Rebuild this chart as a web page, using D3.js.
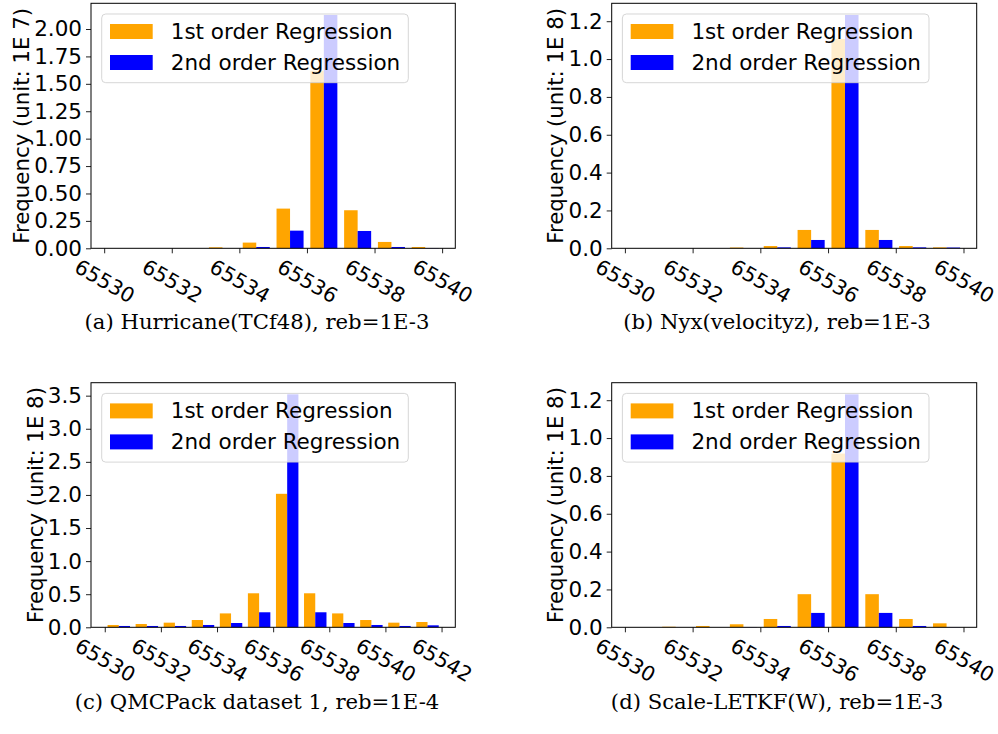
<!DOCTYPE html>
<html>
<head>
<meta charset="utf-8">
<script src="https://cdn.jsdelivr.net/npm/d3@7"></script>
<style>
  body { margin: 0; background: #fff; }
  svg { display: block; }
  .tick text { font-family: "DejaVu Sans", sans-serif; }
</style>
</head>
<body>
<div id="chart"></div>
<script>
// bins (left edges), values in plot units
var binsA = [65530, 65531, 65532, 65533, 65534, 65535, 65536, 65537, 65538, 65539];
var firstA = [0, 0, 0, 0.009, 0.052, 0.362, 1.62, 0.347, 0.058, 0.012];
var secondA = [0, 0, 0, 0, 0.012, 0.161, 2.128, 0.158, 0.012, 0.002];

var binsB = [65530, 65531, 65532, 65533, 65534, 65535, 65536, 65537, 65538, 65539];
var firstB = [0, 0, 0, 0.004, 0.012, 0.097, 1.106, 0.097, 0.012, 0.005];
var secondB = [0, 0, 0, 0, 0.005, 0.044, 1.233, 0.044, 0.005, 0.004];

var binsC = [65530, 65531, 65532, 65533, 65534, 65535, 65536, 65537, 65538, 65539, 65540, 65541];
var firstC = [0.035, 0.05, 0.07, 0.11, 0.21, 0.514, 2.017, 0.514, 0.21, 0.11, 0.07, 0.08];
var secondC = [0.02, 0.02, 0.02, 0.035, 0.065, 0.227, 3.52, 0.227, 0.065, 0.035, 0.02, 0.03];

var binsD = [65530, 65531, 65532, 65533, 65534, 65535, 65536, 65537, 65538, 65539];
var firstD = [0, 0.003, 0.007, 0.016, 0.044, 0.175, 0.918, 0.175, 0.044, 0.021];
var secondD = [0, 0, 0, 0.001, 0.007, 0.076, 1.231, 0.076, 0.007, 0.001];

var xTicksA = [65530, 65532, 65534, 65536, 65538, 65540];
var xTicksC = [65530, 65532, 65534, 65536, 65538, 65540, 65542];
var yTicksA = [0, 0.25, 0.5, 0.75, 1.0, 1.25, 1.5, 1.75, 2.0];
var yTicksB = [0, 0.2, 0.4, 0.6, 0.8, 1.0, 1.2];
var yTicksC = [0, 0.5, 1.0, 1.5, 2.0, 2.5, 3.0, 3.5];

var seriesNames = ["1st order Regression", "2nd order Regression"];
var seriesColors = ["#ffa500", "#0000ff"];

var WIDTH = 998, HEIGHT = 734;

var svg = d3.select("#chart").append("svg")
    .attr("width", WIDTH)
    .attr("height", HEIGHT);

function panel(opt) {
    var left = opt.left, right = opt.right, top = opt.top, bottom = opt.bottom;
    var bins = opt.bins;

    // matplotlib style 5% margins around the patches
    var x0 = bins[0] + 0.1, x1 = bins[bins.length - 1] + 0.9;
    var pad = (x1 - x0) * 0.05;
    var x = d3.scaleLinear().domain([x0 - pad, x1 + pad]).range([left, right]);

    var ymax = d3.max(opt.first.concat(opt.second)) * 1.05;
    var y = d3.scaleLinear().domain([0, ymax]).range([bottom, top]);

    var g = svg.append("g");

    var rows = bins.map(function (b, i) {
        return { bin: b, v: [opt.first[i], opt.second[i]] };
    });

    [0, 1].forEach(function (s) {
        g.append("g").selectAll("rect")
            .data(rows).enter().append("rect")
            .attr("x", function (d) { return x(d.bin + 0.1 + 0.4 * s); })
            .attr("width", function (d) { return x(d.bin + 0.5) - x(d.bin + 0.1); })
            .attr("y", function (d) { return y(d.v[s]); })
            .attr("height", function (d) { return y(0) - y(d.v[s]); })
            .attr("fill", seriesColors[s]);
    });

    var xAxis = g.append("g")
        .attr("transform", "translate(0," + bottom + ")")
        .call(d3.axisBottom(x).tickValues(opt.xTicks).tickSize(5).tickFormat(d3.format("d")));
    xAxis.select(".domain").remove();
    xAxis.selectAll(".tick line").attr("stroke", "#222");
    xAxis.selectAll(".tick text")
        .attr("y", 0).attr("dy", null)
        .attr("font-size", 20.5)
        .attr("fill", "#000")
        .attr("text-anchor", "middle")
        .attr("dominant-baseline", "central")
        .attr("transform", "translate(0,33) rotate(30)");

    var yAxis = g.append("g")
        .attr("transform", "translate(" + left + ",0)")
        .call(d3.axisLeft(y).tickValues(opt.yTicks).tickSize(5).tickPadding(4).tickFormat(d3.format(opt.yFormat)));
    yAxis.select(".domain").remove();
    yAxis.selectAll(".tick line").attr("stroke", "#222");
    yAxis.selectAll(".tick text")
        .attr("font-size", 21.5)
        .attr("fill", "#000");

    g.append("rect")
        .attr("x", left).attr("y", top)
        .attr("width", right - left).attr("height", bottom - top)
        .attr("fill", "none")
        .attr("stroke", "#000")
        .attr("stroke-width", 1);

    g.append("text")
        .attr("transform", "translate(" + opt.labelX + "," + ((top + bottom) / 2) + ") rotate(-90)")
        .attr("text-anchor", "middle")
        .attr("dominant-baseline", "central")
        .attr("font-family", "DejaVu Sans, sans-serif")
        .attr("font-size", 21.3)
        .text(opt.ylabel);

    // legend
    var lx = left + 10.7, ly = top + 10.7;
    var leg = g.append("g").attr("transform", "translate(" + lx + "," + ly + ")");
    leg.append("rect")
        .attr("width", 306.6).attr("height", 68.7)
        .attr("rx", 4).attr("ry", 4)
        .attr("fill", "#fff").attr("fill-opacity", 0.8)
        .attr("stroke", "#cccccc").attr("stroke-opacity", 0.8)
        .attr("stroke-width", 1);
    seriesNames.forEach(function (name, i) {
        leg.append("rect")
            .attr("x", 8.3).attr("y", 10 + i * 31)
            .attr("width", 42.7).attr("height", 15)
            .attr("fill", seriesColors[i]);
        leg.append("text")
            .attr("x", 69).attr("y", 17.5 + i * 31)
            .attr("dominant-baseline", "central")
            .attr("font-family", "DejaVu Sans, sans-serif")
            .attr("font-size", 21.5)
            .text(name);
    });

    svg.append("text")
        .attr("x", opt.capX).attr("y", opt.capY)
        .attr("text-anchor", "middle")
        .attr("font-family", "DejaVu Serif, serif")
        .attr("font-size", 21.2)
        .text(opt.caption);
}

panel({ left: 91, right: 455.3, top: 3.3, bottom: 248.3, bins: binsA, first: firstA, second: secondA,
    xTicks: xTicksA, yTicks: yTicksA, yFormat: ".2f", ylabel: "Frequency (unit: 1E 7)", labelX: 21.7,
    caption: "(a) Hurricane(TCf48), reb=1E-3", capX: 257, capY: 329 });
panel({ left: 611.7, right: 976.7, top: 3.3, bottom: 248.3, bins: binsB, first: firstB, second: secondB,
    xTicks: xTicksA, yTicks: yTicksB, yFormat: ".1f", ylabel: "Frequency (unit: 1E 8)", labelX: 555,
    caption: "(b) Nyx(velocityz), reb=1E-3", capX: 777, capY: 329 });
panel({ left: 91, right: 455.3, top: 382.7, bottom: 627.3, bins: binsC, first: firstC, second: secondC,
    xTicks: xTicksC, yTicks: yTicksC, yFormat: ".1f", ylabel: "Frequency (unit: 1E 8)", labelX: 35,
    caption: "(c) QMCPack dataset 1, reb=1E-4", capX: 257, capY: 709 });
panel({ left: 611.7, right: 976.7, top: 382.7, bottom: 627.3, bins: binsD, first: firstD, second: secondD,
    xTicks: xTicksA, yTicks: yTicksB, yFormat: ".1f", ylabel: "Frequency (unit: 1E 8)", labelX: 555,
    caption: "(d) Scale-LETKF(W), reb=1E-3", capX: 777, capY: 709 });
</script>
</body>
</html>
